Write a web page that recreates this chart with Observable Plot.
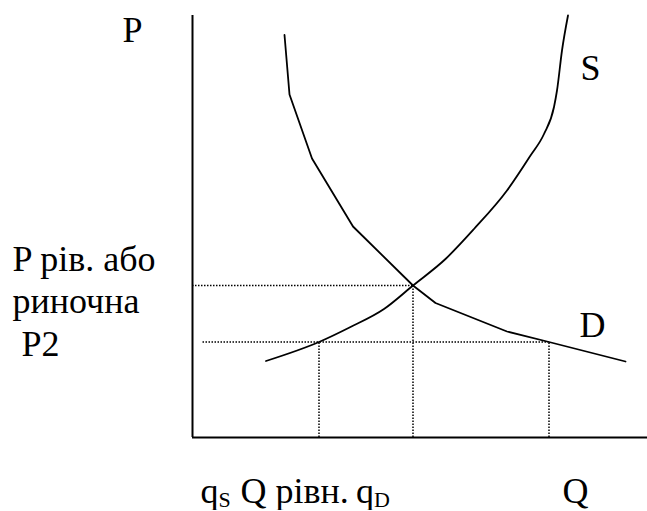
<!DOCTYPE html>
<html>
<head>
<meta charset="utf-8">
<script src="https://cdn.jsdelivr.net/npm/d3@7"></script>
<script src="https://cdn.jsdelivr.net/npm/@observablehq/plot@0.6"></script>
<style>
  html, body { margin: 0; }
  svg { display: block; }
</style>
</head>
<body>
<div id="chart"></div>
<script>
// Demand curve: quantity / price pairs
const demandQ = [18.4, 19.4, 23.9, 32.1, 44.1, 48.6, 62.9, 71.3, 86.6];
const demandP = [80.5, 68.6, 55.8, 42.2, 30.4, 26.9, 21.2, 19.1, 15.2];

// Supply curve: quantity / price pairs
const supplyQ = [14.7, 25.3, 31.6, 38.3, 44.1, 50.6, 56.3, 62.9, 67.6, 70.3, 72.3, 72.9, 73.9, 75.1];
const supplyP = [15.3, 19.1, 22.1, 25.7, 30.4, 35.7, 41.7, 49.4, 56.4, 60.7, 66.1, 69.4, 77.4, 84.4];

// Equilibrium and the lower price P2 with the quantities supplied / demanded at it
const equilibriumQ = 44.1;
const equilibriumP = 30.4;
const priceP2 = 19.1;
const quantitySupplied = 25.3;
const quantityDemanded = 71.3;

// Axis extents
const maxQ = 91;
const maxP = 84.4;

// Label texts
const priceAxisLabel = "P";
const quantityAxisLabel = "Q";
const supplyLabel = "S";
const demandLabel = "D";
const priceNote = "P рів. або\nриночна\n\u00A0P2";
const quantityNote = "Q рівн.";
const qLetter = "q";
const supplySub = "S";
const demandSub = "D";

const demand = demandQ.map((q, i) => ({q, p: demandP[i]}));
const supply = supplyQ.map((q, i) => ({q, p: supplyP[i]}));

const serif = "Liberation Serif";
const big = 36;
const small = 22;
const dots = "1.5,1.5";

function label(text, x, y, size = big) {
  return Plot.text([text], {
    x: () => x, y: () => y, text: d => d,
    textAnchor: "start", lineAnchor: "bottom",
    fontSize: size, fontFamily: serif, lineHeight: 1.18
  });
}

const chart = Plot.plot({
  width: 647,
  height: 510,
  marginLeft: 192,
  marginRight: 0,
  marginTop: 15,
  marginBottom: 73,
  x: {domain: [0, maxQ], axis: null},
  y: {domain: [0, maxP], axis: null},
  marks: [
    // Labels
    label(priceAxisLabel, -14, 79.2),
    label(supplyLabel, 77.6, 71.6),
    label(demandLabel, 77.4, 20.2),
    label(priceNote, -36, 16.4),
    label(qLetter, 1.6, -13),
    label(supplySub, 5.2, -13.8, small),
    label(quantityNote, 9.6, -13),
    label(qLetter, 32.7, -13),
    label(demandSub, 36.3, -13.8, small),
    label(quantityAxisLabel, 74, -13),

    // Axes
    Plot.ruleX([0], {y1: 0, y2: maxP, stroke: "black", strokeWidth: 2}),
    Plot.ruleY([0], {x1: 0, x2: maxQ, stroke: "black", strokeWidth: 2}),

    // Dotted guides
    Plot.ruleY([equilibriumP], {x1: 0, x2: equilibriumQ, stroke: "black", strokeWidth: 1.5, strokeDasharray: dots}),
    Plot.ruleY([priceP2], {x1: 2.1, x2: quantityDemanded, stroke: "black", strokeWidth: 1.5, strokeDasharray: dots}),
    Plot.ruleX([quantitySupplied], {y1: 0, y2: priceP2, stroke: "black", strokeWidth: 1.5, strokeDasharray: dots}),
    Plot.ruleX([equilibriumQ], {y1: 0, y2: equilibriumP, stroke: "black", strokeWidth: 1.5, strokeDasharray: dots}),
    Plot.ruleX([quantityDemanded], {y1: 0, y2: priceP2, stroke: "black", strokeWidth: 1.5, strokeDasharray: dots}),

    // Curves
    Plot.line(demand, {x: "q", y: "p", stroke: "black", strokeWidth: 1.8}),
    Plot.line(supply, {x: "q", y: "p", stroke: "black", strokeWidth: 1.8, curve: "monotone-x"})
  ]
});

document.getElementById("chart").appendChild(chart);
</script>
</body>
</html>
